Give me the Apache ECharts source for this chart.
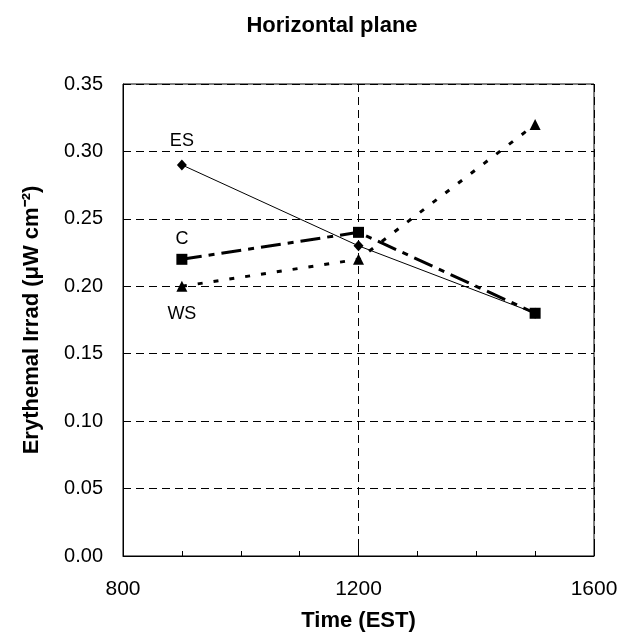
<!DOCTYPE html>
<html><head><meta charset="utf-8">
<script src="https://cdn.jsdelivr.net/npm/echarts@6/dist/echarts.min.js"></script>
<style>html,body{margin:0;padding:0;background:#fff}#c{width:627px;height:641px}</style>
</head><body><div id="c"></div>
<script>
const times = [900, 1200, 1500];
const esValues = [0.29, 0.23, 0.18];
const cValues = [0.22, 0.24, 0.18];
const wsValues = [0.20, 0.22, 0.32];
const xTicks = [800, 1200, 1600];
const yTicks = [0, 0.05, 0.10, 0.15, 0.20, 0.25, 0.30, 0.35];

const F = '"Liberation Sans", Arial, sans-serif';
function pts(vals, name, pos, dist) {
  return vals.map((v, i) => {
    const d = { value: [times[i], v] };
    if (i === 0) d.label = { show: true, position: pos, formatter: name, distance: dist, fontFamily: F, fontSize: 18, color: '#000' };
    return d;
  });
}
const chart = echarts.init(document.getElementById('c'));
chart.setOption({
  animation: false,
  backgroundColor: '#fff',
  title: { text: 'Horizontal plane', left: 327, top: 10, textAlign: 'center',
    textStyle: { fontFamily: F, fontSize: 22, fontWeight: 'bold', color: '#000' } },
  grid: { left: 123, top: 84, right: 33, bottom: 85, show: true, borderColor: '#000', borderWidth: 1, backgroundColor: 'transparent' },
  xAxis: {
    type: 'value', min: xTicks[0], max: xTicks[xTicks.length - 1], interval: 400,
    name: 'Time (EST)', nameLocation: 'middle', nameGap: 54,
    nameTextStyle: { fontFamily: F, fontSize: 22, fontWeight: 'bold', color: '#000' },
    axisLine: { show: true, lineStyle: { color: '#000', width: 1 } },
    axisTick: { show: true, inside: true, length: 9, lineStyle: { color: '#000' } },
    minorTick: { show: true, splitNumber: 4, length: 5, lineStyle: { color: '#000' } },
    axisLabel: { fontFamily: F, fontSize: 21, color: '#000', margin: 23, formatter: v => String(v) },
    splitLine: { show: true, lineStyle: { color: '#000', type: [8, 5], width: 1 } }
  },
  yAxis: {
    type: 'value', min: yTicks[0], max: yTicks[yTicks.length - 1], interval: 0.05,
    name: 'Erythemal Irrad (\u03bcW cm\u207b\u00b2)', nameLocation: 'middle', nameGap: 80,
    nameTextStyle: { fontFamily: F, fontSize: 22, fontWeight: 'bold', color: '#000' },
    axisLine: { show: true, lineStyle: { color: '#000', width: 1 } },
    axisTick: { show: false },
    axisLabel: { fontFamily: F, fontSize: 20, color: '#000', margin: 20, formatter: v => v.toFixed(2) },
    splitLine: { show: true, lineStyle: { color: '#000', type: [8, 5], width: 1 } }
  },
  series: [
    { name: 'ES', type: 'line', data: pts(esValues, 'ES', 'top', 9), symbol: 'diamond', symbolSize: [10, 11],
      itemStyle: { color: '#000' }, lineStyle: { color: '#000', width: 1, type: 'solid' } },
    { name: 'C', type: 'line', data: pts(cValues, 'C', 'top', 6), symbol: 'rect', symbolSize: 11,
      itemStyle: { color: '#000' }, lineStyle: { color: '#000', width: 3, type: [20, 7, 6, 7], cap: 'butt' } },
    { name: 'WS', type: 'line', data: pts(wsValues, 'WS', 'bottom', 13), symbol: 'triangle', symbolSize: 11,
      itemStyle: { color: '#000' }, lineStyle: { color: '#000', width: 3, type: [5, 11], cap: 'butt' } }
  ]
});
</script></body></html>
